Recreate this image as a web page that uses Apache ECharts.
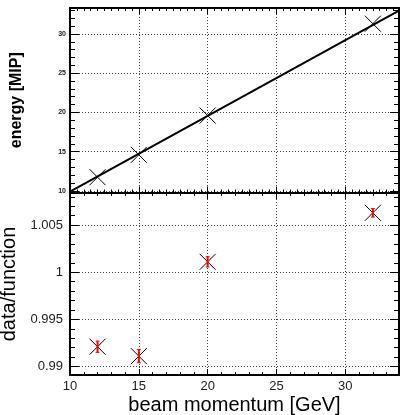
<!DOCTYPE html>
<html>
<head>
<meta charset="utf-8">
<script src="https://cdn.jsdelivr.net/npm/echarts@6/dist/echarts.min.js"></script>
<style>
html,body{margin:0;padding:0;background:#fff;}
#chart{width:400px;height:415px;}
</style>
</head>
<body>
<div id="chart"></div>
<script>
// ---- data ----
var beamMomentum = [12, 15, 20, 32];
var energyMIP = [11.75, 14.6, 19.6, 31.3];
var ratioValues = [0.9921, 0.9911, 1.0011, 1.0063];
var ratioErrors = [0.0006, 0.0007, 0.00055, 0.00045];
var fitX = [10, 33.9];
var fitY = [9.92, 32.95];

var topPoints = beamMomentum.map(function (x, i) { return [x, energyMIP[i]]; });
var ratioPoints = beamMomentum.map(function (x, i) { return [x, ratioValues[i], ratioErrors[i]]; });
var fitLine = fitX.map(function (x, i) { return [x, fitY[i]]; });

var FONT = '"Liberation Sans", Arial, Helvetica, sans-serif';
var grid = { type: [1, 2], color: '#444', width: 1 };

function crossItem(params, api) {
  var p = api.coord([api.value(0), api.value(1)]);
  var s = 8;
  return {
    type: 'group',
    children: [
      { type: 'line', shape: { x1: p[0] - s, y1: p[1] - s, x2: p[0] + s, y2: p[1] + s }, style: { stroke: '#000', lineWidth: 1 } },
      { type: 'line', shape: { x1: p[0] - s, y1: p[1] + s, x2: p[0] + s, y2: p[1] - s }, style: { stroke: '#000', lineWidth: 1 } }
    ]
  };
}
function errItem(params, api) {
  var x = api.value(0), y = api.value(1), e = api.value(2);
  var lo = api.coord([x, y - e]);
  var hi = api.coord([x, y + e]);
  var c = 2;
  return {
    type: 'group',
    children: [
      { type: 'line', shape: { x1: lo[0], y1: lo[1], x2: hi[0], y2: hi[1] }, style: { stroke: '#ff0000', lineWidth: 2 } },
      { type: 'line', shape: { x1: lo[0] - c, y1: lo[1], x2: lo[0] + c, y2: lo[1] }, style: { stroke: '#ff0000', lineWidth: 1 } },
      { type: 'line', shape: { x1: hi[0] - c, y1: hi[1], x2: hi[0] + c, y2: hi[1] }, style: { stroke: '#ff0000', lineWidth: 1 } }
    ]
  };
}

function xAx(gridIndex, position, opts) {
  var base = {
    type: 'value', gridIndex: gridIndex, position: position,
    min: 10, max: 33.9, interval: 5,
    axisLine: { show: true, onZero: false, lineStyle: { color: '#000', width: 2 } },
    axisTick: { show: true, inside: true, length: 6, lineStyle: { color: '#000', width: 1 } },
    minorTick: { show: true, splitNumber: opts.minor || 5, length: 3, lineStyle: { color: '#000', width: 1 } },
    axisLabel: { show: false },
    splitLine: { show: false }
  };
  for (var k in opts) if (k !== 'minor') base[k] = opts[k];
  return base;
}
function yAx(gridIndex, position, min, max, step, opts) {
  var base = {
    type: 'value', gridIndex: gridIndex, position: position,
    min: min, max: max, minInterval: step, maxInterval: step,
    axisLine: { show: true, onZero: false, lineStyle: { color: '#000', width: 2 } },
    axisTick: { show: true, inside: true, length: 9, lineStyle: { color: '#000', width: 1 } },
    minorTick: { show: true, splitNumber: 5, length: 5, lineStyle: { color: '#000', width: 1 } },
    axisLabel: { show: false },
    splitLine: { show: false }
  };
  for (var k in opts) base[k] = opts[k];
  return base;
}

var chart = echarts.init(document.getElementById('chart'), null, { renderer: 'canvas' });
chart.setOption({
  animation: false,
  backgroundColor: '#fff',
  grid: [
    { left: 70, top: 8, right: 1, height: 184.5, containLabel: false, outerBoundsMode: 'none' },
    { left: 70, top: 193, right: 1, bottom: 40, containLabel: false, outerBoundsMode: 'none' }
  ],
  xAxis: [
    xAx(0, 'bottom', { minor: 10, splitLine: { show: true, lineStyle: grid } }),
    xAx(0, 'top', { minor: 10 }),
    xAx(1, 'bottom', {
      splitLine: { show: true, lineStyle: grid },
      axisLabel: { show: true, fontFamily: FONT, fontSize: 13, color: '#222', margin: 5,
        formatter: function (v) { return (Math.abs(v % 5) < 1e-9) ? String(v) : ''; } },
      name: 'beam momentum [GeV]', nameLocation: 'middle', nameGap: 20,
      nameTextStyle: { fontFamily: FONT, fontSize: 20, color: '#000' }
    }),
    xAx(1, 'top', {})
  ],
  yAxis: [
    yAx(0, 'left', 9.8, 33.3, 5, {
      splitLine: { show: true, lineStyle: grid },
      axisLabel: { show: true, fontFamily: FONT, fontSize: 7, fontWeight: 'bold', color: '#222', margin: 4,
        formatter: function (v) { return (Math.abs(v % 5) < 1e-9) ? String(v) : ''; } },
      name: 'energy [MIP]', nameLocation: 'middle', nameGap: 45, nameRotate: 90,
      nameTextStyle: { fontFamily: FONT, fontSize: 16, fontWeight: 'bold', color: '#000' }
    }),
    yAx(0, 'right', 9.8, 33.3, 5, {}),
    yAx(1, 'left', 0.9891, 1.0084, 0.005, {
      splitLine: { show: true, lineStyle: grid },
      axisLabel: { show: true, fontFamily: FONT, fontSize: 13, color: '#222', margin: 7,
        formatter: function (v) {
          var r = Math.round(v * 1000) / 1000;
          if (Math.abs(r * 200 - Math.round(r * 200)) > 1e-6 || Math.abs(v - r) > 1e-7) return '';
          return String(r);
        } },
      name: 'data/function', nameLocation: 'middle', nameGap: 40, nameRotate: 90,
      nameTextStyle: { fontFamily: FONT, fontSize: 20, color: '#000' }
    }),
    yAx(1, 'right', 0.9891, 1.0084, 0.005, {})
  ],
  series: [
    {
      type: 'line', xAxisIndex: 0, yAxisIndex: 0, data: fitLine,
      showSymbol: false, symbol: 'none', lineStyle: { color: '#000', width: 2 }, z: 3
    },
    { type: 'custom', xAxisIndex: 0, yAxisIndex: 0, data: topPoints, renderItem: crossItem, z: 4 },
    { type: 'custom', xAxisIndex: 2, yAxisIndex: 2, data: ratioPoints, renderItem: crossItem, z: 4,
      encode: { x: 0, y: 1 } },
    { type: 'custom', xAxisIndex: 2, yAxisIndex: 2, data: ratioPoints, renderItem: errItem, z: 5,
      encode: { x: 0, y: 1 } }
  ]
});
</script>
</body>
</html>
